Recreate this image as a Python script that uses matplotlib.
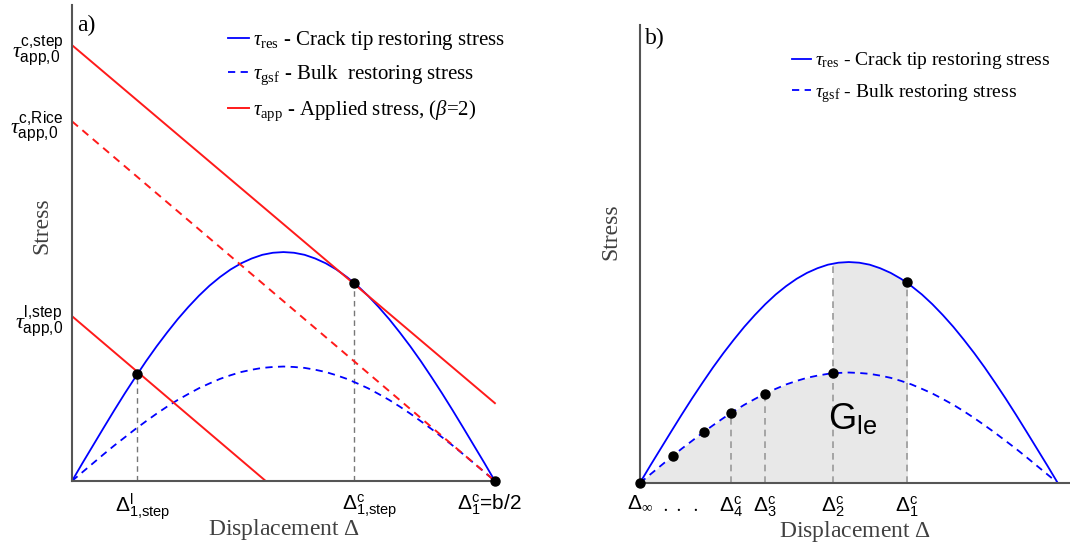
import matplotlib
matplotlib.use("Agg")
import matplotlib.pyplot as plt
from matplotlib.patches import Rectangle
from matplotlib.transforms import ScaledTranslation

plt.rcParams['font.family'] = ['Liberation Serif', 'DejaVu Serif']
plt.rcParams['mathtext.fontset'] = 'custom'
plt.rcParams['mathtext.rm'] = 'Liberation Serif'
plt.rcParams['mathtext.it'] = 'Liberation Serif:italic'
plt.rcParams['mathtext.bf'] = 'Liberation Serif:bold'
plt.rcParams['mathtext.sf'] = 'Liberation Sans'

# displacement grid (fraction of b/2) and restoring stresses
disp = [0.000, 0.025, 0.050, 0.075, 0.100, 0.125, 0.150, 0.175, 0.200, 0.225,
        0.250, 0.275, 0.300, 0.325, 0.350, 0.375, 0.400, 0.425, 0.450, 0.475,
        0.500, 0.525, 0.550, 0.575, 0.600, 0.625, 0.650, 0.675, 0.700, 0.725,
        0.750, 0.775, 0.800, 0.825, 0.850, 0.875, 0.900, 0.925, 0.950, 0.975, 1.000]
tau_res = [0.000, 0.079, 0.156, 0.233, 0.309, 0.383, 0.454, 0.523, 0.588, 0.649,
           0.707, 0.760, 0.809, 0.853, 0.891, 0.924, 0.951, 0.972, 0.988, 0.997,
           1.000, 0.997, 0.988, 0.972, 0.951, 0.924, 0.891, 0.853, 0.809, 0.760,
           0.707, 0.649, 0.588, 0.523, 0.454, 0.383, 0.309, 0.233, 0.156, 0.079, 0.000]
tau_gsf = [0.000, 0.039, 0.078, 0.117, 0.155, 0.191, 0.227, 0.261, 0.294, 0.325,
           0.354, 0.380, 0.405, 0.426, 0.446, 0.462, 0.476, 0.486, 0.494, 0.498,
           0.500, 0.498, 0.494, 0.486, 0.476, 0.462, 0.446, 0.426, 0.405, 0.380,
           0.354, 0.325, 0.294, 0.261, 0.227, 0.191, 0.155, 0.117, 0.078, 0.039, 0.000]

# panel a: applied stress lines (x, y end points)
app_step_x = [0.0, 1.0]
app_step_y = [1.904, 0.340]
app_rice_x = [0.0, 1.0]
app_rice_y = [1.571, 0.000]
app_low_x = [0.0, 0.458]
app_low_y = [0.720, 0.000]

pts_a_x = [0.154, 0.667, 1.0]
pts_a_y = [0.468, 0.866, 0.0]
vlines_a_x = [0.154, 0.667]
vlines_a_y = [0.468, 0.866]
xt_a = [0.154, 0.667, 1.0]
xt_a_labels = [r'$\mathsf{\Delta}^{\mathsf{l}}_{\mathsf{1{,}step}}$',
               r'$\mathsf{\Delta}^{\mathsf{c}}_{\mathsf{1{,}step}}$',
               r'$\mathsf{\Delta}^{\mathsf{c}}_{\mathsf{1}}$=b/2']
xt_a_shift = [6, 16, -5]   # pixel nudges of the labels
yt_a = [1.904, 1.571, 0.720]
yt_a_labels = [r'$\tau^{\mathsf{c{,}step}}_{\mathsf{app{,}0}}$',
               r'$\tau^{\mathsf{c{,}Rice}}_{\mathsf{app{,}0}}$',
               r'$\tau^{\mathsf{l{,}step}}_{\mathsf{app{,}0}}$']

# panel b
pts_gsf_x = [0.0, 0.079, 0.153, 0.218, 0.299, 0.462]
pts_gsf_y = [0.0, 0.123, 0.232, 0.316, 0.403, 0.497]
pts_res_x = [0.639]
pts_res_y = [0.908]
vlines_b_x = [0.218, 0.299, 0.462, 0.639]
vlines_b_y = [0.316, 0.403, 0.993, 0.908]
xt_b = [0.0, 0.218, 0.299, 0.462, 0.639]
xt_b_labels = [r'$\mathsf{\Delta}_{\infty}$',
               r'$\mathsf{\Delta}^{\mathsf{c}}_{\mathsf{4}}$',
               r'$\mathsf{\Delta}^{\mathsf{c}}_{\mathsf{3}}$',
               r'$\mathsf{\Delta}^{\mathsf{c}}_{\mathsf{2}}$',
               r'$\mathsf{\Delta}^{\mathsf{c}}_{\mathsf{1}}$']
shade_gsf_end = 0.462
shade_res_end = 0.639

BLUE = '#0000ff'
RED = '#ff1a1a'
SPINE = '#555555'
GRAYTXT = '#404040'
DASH = (0, (4, 3))

fig = plt.figure(figsize=(10.7, 5.47), dpi=100)
ax1 = fig.add_axes([0.0673, 0.1207, 0.3972, 0.870])
ax2 = fig.add_axes([0.598, 0.117, 0.4019, 0.837])


def style_axes(ax, xmax, ymax):
    ax.set_xlim(0, xmax)
    ax.set_ylim(0, ymax)
    for s in ['top', 'right']:
        ax.spines[s].set_visible(False)
    for s in ['left', 'bottom']:
        ax.spines[s].set_color(SPINE)
        ax.spines[s].set_linewidth(1.5)
    ax.tick_params(length=0)


# ---- panel a ----
style_axes(ax1, 1.005, 2.079)
ax1.vlines(vlines_a_x, 0, vlines_a_y, colors='#777777', linestyles=(0, (4, 3)), linewidth=1)
l_res, = ax1.plot(disp, tau_res, color=BLUE, lw=1.3)
l_gsf, = ax1.plot(disp, tau_gsf, color=BLUE, lw=1.3, ls=DASH)
l_app, = ax1.plot(app_step_x, app_step_y, color=RED, lw=1.4)
ax1.plot(app_rice_x, app_rice_y, color=RED, lw=1.4, ls=DASH)
ax1.plot(app_low_x, app_low_y, color=RED, lw=1.4)
ax1.plot(pts_a_x, pts_a_y, 'o', color='black', ms=6.5, clip_on=False, zorder=5)

ax1.set_yticks(yt_a)
ax1.set_yticklabels(yt_a_labels, fontsize=16)
ax1.tick_params(axis='y', pad=6)
ax1.set_xticks(xt_a)
ax1.set_xticklabels(xt_a_labels, fontsize=15, fontfamily='Liberation Sans')
ax1.tick_params(axis='x', pad=8)
for lab, dx in zip(ax1.get_xticklabels(), xt_a_shift):
    lab.set_transform(lab.get_transform() + ScaledTranslation(dx / 100, 0, fig.dpi_scale_trans))

ax1.set_xlabel(r'Displacement $\Delta$', fontsize=17, color=GRAYTXT, va='center')
ax1.xaxis.set_label_coords(0.5, -0.103)
ax1.set_ylabel('Stress', fontsize=17, color=GRAYTXT, va='center')
ax1.yaxis.set_label_coords(-0.07, 0.536)
ax1.text(0.012, 0.958, 'a)', transform=ax1.transAxes, fontsize=17, va='center')

ax1.legend([l_res, l_gsf, l_app],
           [r'$\tau_{\rm res}$ - Crack tip restoring stress',
            r'$\tau_{\rm gsf}$ - Bulk  restoring stress',
            r'$\tau_{\rm app}$ - Applied stress, ($\beta$=2)'],
           loc='upper left', bbox_to_anchor=(0.367, 0.95), frameon=False,
           fontsize=15, handlelength=1.0, handletextpad=0.2, labelspacing=0.55,
           borderpad=0, borderaxespad=0)

# ---- panel b ----
style_axes(ax2, 1.029, 2.072)
f1 = ax2.fill_between(disp, 0, tau_gsf, color='#e8e8e8', lw=0, zorder=0)
f1.set_clip_path(Rectangle((0, 0), shade_gsf_end, 2, transform=ax2.transData))
f2 = ax2.fill_between(disp, 0, tau_res, color='#e8e8e8', lw=0, zorder=0)
f2.set_clip_path(Rectangle((shade_gsf_end, 0), shade_res_end - shade_gsf_end, 2,
                           transform=ax2.transData))
ax2.vlines(vlines_b_x, 0, vlines_b_y, colors='#999999', linestyles=(0, (4, 3)), linewidth=1.2)
m_res, = ax2.plot(disp, tau_res, color=BLUE, lw=1.3)
m_gsf, = ax2.plot(disp, tau_gsf, color=BLUE, lw=1.3, ls=DASH)
ax2.plot(pts_gsf_x, pts_gsf_y, 'o', color='black', ms=6.5, clip_on=False, zorder=5)
ax2.plot(pts_res_x, pts_res_y, 'o', color='black', ms=6.5, clip_on=False, zorder=5)

ax2.set_yticks([])
ax2.set_xticks(xt_b)
ax2.set_xticklabels(xt_b_labels, fontsize=15)
ax2.tick_params(axis='x', pad=8)
ax2.text(0.096, -0.055, r'$\cdot\ \cdot\ \cdot$', transform=ax2.get_xaxis_transform(),
         fontsize=15, ha='center', va='center')
ax2.text(0.51, 0.285, r'$\mathsf{G}_{\mathsf{le}}$', fontsize=26, ha='center', va='center')

ax2.set_xlabel(r'Displacement $\Delta$', fontsize=17, color=GRAYTXT, va='center')
ax2.xaxis.set_label_coords(0.5, -0.105)
ax2.set_ylabel('Stress', fontsize=17, color=GRAYTXT, va='center')
ax2.yaxis.set_label_coords(-0.067, 0.548)
ax2.text(0.012, 0.972, 'b)', transform=ax2.transAxes, fontsize=17, va='center')

ax2.legend([m_res, m_gsf],
           [r'$\tau_{\rm res}$ - Crack tip restoring stress',
            r'$\tau_{\rm gsf}$ - Bulk restoring stress'],
           loc='upper left', bbox_to_anchor=(0.353, 0.945), frameon=False,
           fontsize=14, handlelength=1.0, handletextpad=0.2, labelspacing=0.55,
           borderpad=0, borderaxespad=0)

fig.savefig('out.png', dpi=100)
